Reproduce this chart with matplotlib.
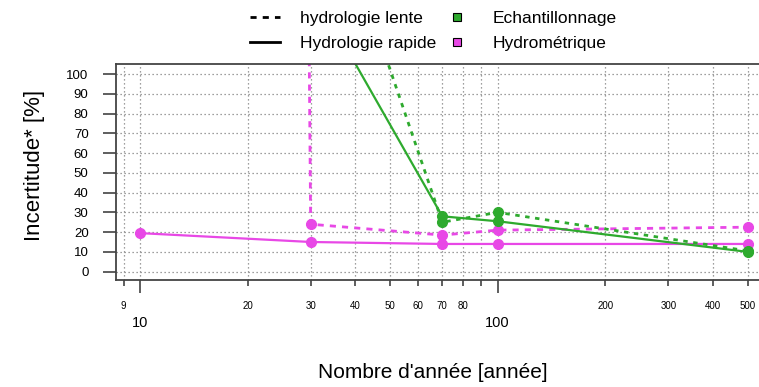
import matplotlib.pyplot as plt
from matplotlib.lines import Line2D
import numpy as np

plt.rcParams['font.family'] = ['Liberation Sans', 'DejaVu Sans']

# nombre d'annees (axe x, log)
annees = [10, 30, 70, 100, 500]

# incertitude [%] - valeurs hors cadre estimees
echant_rapide = [400, 145, 28, 25.5, 10]
echant_lente = [600, 220, 25, 30, 10.5]
hydro_rapide = [19.5, 15, 14, 14, 14]
hydro_lente = [10000, 24, 18.5, 21, 22.5]

minor_ticks = [9, 20, 30, 40, 50, 60, 70, 80, 90, 200, 300, 400, 500]
minor_labels = ["9", "20", "30", "40", "50", "60", "70", "80", "", "200", "300", "400", "500"]
major_ticks = [10, 100]
grid_x = [9, 10, 20, 30, 40, 50, 60, 70, 80, 90, 100, 200, 300, 400, 500]
y_ticks = list(range(0, 101, 10))

col_echant = "#2eaa2e"
col_hydro = "#e848e6"

W, H = 759, 387
fig = plt.figure(figsize=(W / 100, H / 100), dpi=100)
# cadre du graphe en pixels (le bord droit depasse l'image)
left, right, top, bottom = 115.7, 772, 64.3, 279.5
ax = fig.add_axes([left / W, 1 - bottom / H, (right - left) / W, (bottom - top) / H])

ax.set_xscale("log")
ax.set_xlim(10 ** 0.932, 10 ** 2.767)
ax.set_ylim(-4, 105)

# grille pointillee
for gx in grid_x:
    ax.axvline(gx, color="#808080", lw=0.9, ls=(0, (1, 2.2)), zorder=0)
for gy in y_ticks:
    ax.axhline(gy, color="#808080", lw=0.9, ls=(0, (1, 2.2)), zorder=0)

ms = 7
ax.plot(annees, hydro_lente, color=col_hydro, lw=2, ls=(0, (2.2, 2.2)), marker="o", ms=ms)
ax.plot(annees, hydro_rapide, color=col_hydro, lw=1.6, marker="o", ms=ms)
ax.plot(annees, echant_lente, color=col_echant, lw=2, ls=(0, (1.6, 2.0)), marker="o", ms=ms)
ax.plot(annees, echant_rapide, color=col_echant, lw=1.6, marker="o", ms=ms)

for s in ax.spines.values():
    s.set_color("#444444")
    s.set_linewidth(1.3)

ax.set_yticks(y_ticks)
ax.tick_params(axis="y", length=9.5, width=1.1, color="#333333", pad=10, labelsize=9.5)

ax.set_xticks(major_ticks)
ax.set_xticklabels(["10", "100"])
ax.set_xticks(minor_ticks, minor=True)
ax.set_xticklabels(minor_labels, minor=True)
ax.tick_params(axis="x", which="major", length=9.5, width=1.1, color="#333333", pad=17, labelsize=10.5)
ax.tick_params(axis="x", which="minor", length=4.3, width=1.1, color="#333333", pad=11, labelsize=7)

ax.set_ylabel("Incertitude* [%]", fontsize=16)
ax.yaxis.set_label_coords(-(left - 34) / (right - left), 0.5 + (172 - 166) / (bottom - top))
ax.set_xlabel("Nombre d'année [année]", fontsize=15)
ax.xaxis.set_label_coords((433 - left) / (right - left), -(373 - bottom) / (bottom - top))
ax.xaxis.label.set_va("center")
ax.yaxis.label.set_va("center")

handles = [
    Line2D([], [], color="black", lw=2, ls=(0, (2.2, 2.2))),
    Line2D([], [], color="black", lw=2),
    Line2D([], [], ls="none", marker="s", ms=6, mfc=col_echant, mec="black", mew=0.8),
    Line2D([], [], ls="none", marker="s", ms=6, mfc=col_hydro, mec="black", mew=0.8),
]
labels = ["hydrologie lente", "Hydrologie rapide", "Echantillonnage", "Hydrométrique"]
fig.legend(handles, labels, ncol=2, loc="upper left", bbox_to_anchor=(250 / W, 1 - 11 / H),
           frameon=False, fontsize=12.5, handlelength=1.7, handletextpad=1.2,
           columnspacing=0.35, labelspacing=0.54, borderpad=0, borderaxespad=0)

fig.savefig("out.png", dpi=100)
